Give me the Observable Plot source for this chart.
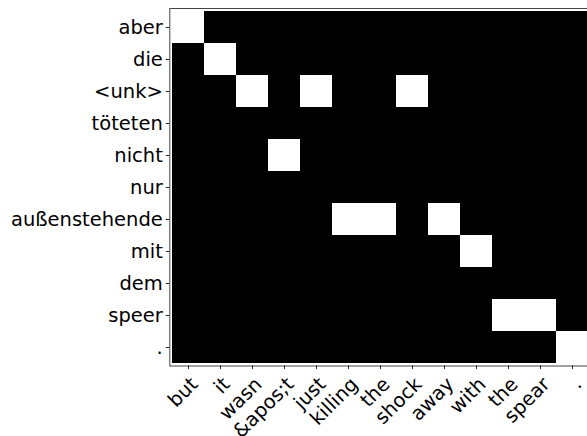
<!DOCTYPE html>
<html>
<head>
<meta charset="utf-8">
<script src="https://cdn.jsdelivr.net/npm/d3@7"></script>
<script src="https://cdn.jsdelivr.net/npm/@observablehq/plot@0.6"></script>
<style>
  html, body { margin: 0; padding: 0; background: white; overflow: hidden; }
  svg { overflow: hidden; }
</style>
</head>
<body>
<div id="chart"></div>
<script>
const sourceWords = ["aber", "die", "<unk>", "töteten", "nicht", "nur", "außenstehende", "mit", "dem", "speer", "."];
const targetWords = ["but", "it", "wasn", "&apos;t", "just", "killing", "the", "shock", "away", "with", "the", "spear", "."];
const attention = [
  [1,0,0,0,0,0,0,0,0,0,0,0,0],
  [0,1,0,0,0,0,0,0,0,0,0,0,0],
  [0,0,1,0,1,0,0,1,0,0,0,0,0],
  [0,0,0,0,0,0,0,0,0,0,0,0,0],
  [0,0,0,1,0,0,0,0,0,0,0,0,0],
  [0,0,0,0,0,0,0,0,0,0,0,0,0],
  [0,0,0,0,0,1,1,0,1,0,0,0,0],
  [0,0,0,0,0,0,0,0,0,1,0,0,0],
  [0,0,0,0,0,0,0,0,0,0,0,0,0],
  [0,0,0,0,0,0,0,0,0,0,1,1,0],
  [0,0,0,0,0,0,0,0,0,0,0,0,1]
];

const cells = [];
attention.forEach((row, r) => row.forEach((v, c) => cells.push({r, c, v})));
const colIdx = targetWords.map((_, i) => i);
const rowIdx = sourceWords.map((_, i) => i);

const font = "DejaVu Sans, sans-serif";
const fs = 19.5;

const chart = Plot.plot({
  width: 587,
  height: 436,
  marginLeft: 169.3,
  marginTop: 8,
  marginBottom: 70.5,
  marginRight: -3.8,
  style: {fontFamily: font, fontSize: fs + "px", color: "black", background: "white"},
  x: {type: "band", domain: colIdx, range: [169.3, 590.8], padding: 0, axis: null},
  y: {type: "band", domain: rowIdx, range: [8, 365.5], padding: 0, axis: null},
  color: {type: "ordinal", domain: [0, 1], range: ["black", "white"]},
  marks: [
    Plot.cell(cells, {x: "c", y: "r", fill: "v", inset: 0}),
    Plot.frame({stroke: "#444", strokeWidth: 1}),
    Plot.axisY({
      label: null, tickSize: 3.5, tickPadding: 3.5, fontSize: fs,
      tickFormat: i => sourceWords[i], stroke: "#222", fill: "black"
    }),
    Plot.axisX({
      label: null, tickSize: 3.5, tickFormat: () => "", stroke: "#222"
    }),
    Plot.text(colIdx, {
      x: d => d, frameAnchor: "bottom", text: d => targetWords[d],
      rotate: -45, textAnchor: "end", lineAnchor: "middle", dx: 6, dy: 15,
      fontSize: fs, fill: "black"
    })
  ]
});
document.getElementById("chart").appendChild(chart);
</script>
</body>
</html>
